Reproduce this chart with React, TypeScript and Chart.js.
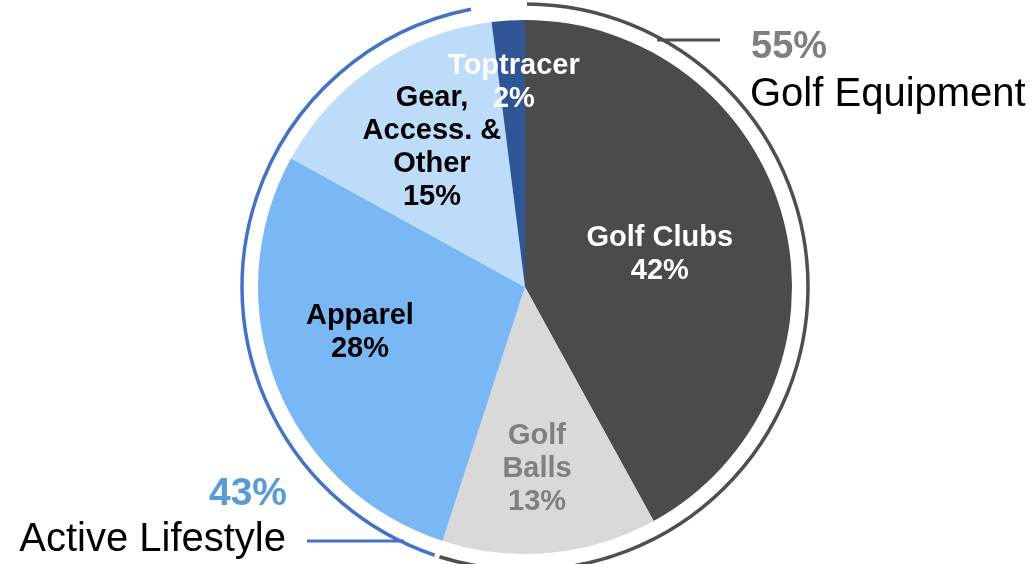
import React, { useEffect, useRef } from "react";
import { Chart, registerables } from "chart.js";

Chart.register(...registerables);

const categories = ["Golf Clubs", "Golf Balls", "Apparel", "Gear, Access. & Other", "Toptracer"];
const labelLines = [["Golf Clubs"], ["Golf", "Balls"], ["Apparel"], ["Gear,", "Access. &", "Other"], ["Toptracer"]];
const shares = [42, 13, 28, 15, 2];
const sliceColors = ["#4b4b4d", "#d9d9d9", "#79b7f5", "#bddcfa", "#2f5597"];
const labelColors = ["#ffffff", "#808080", "#000000", "#000000", "#ffffff"];

const groupNames = ["Golf Equipment", "Active Lifestyle"];
const groupShares = [55, 43];
const groupMembers = [[0, 1], [2, 3]];
const groupLineColors = ["#4f4f4f", "#4472c4"];
const groupPctColors = ["#7f7f7f", "#5b9bd5"];

// label placement: angle shift (deg) from slice mid-angle and radius fraction
const labelPlace = [
  { dAng: 0.5, rf: 0.52 },
  { dAng: 1.6, rf: 0.68 },
  { dAng: 6.6, rf: 0.64 },
  { dAng: 0.6, rf: 0.63 },
  { dAng: 0.5, rf: 0.77 },
];

const FONT = "'Liberation Sans', Arial, sans-serif";

const overlayPlugin = {
  id: "overlay",
  afterDatasetsDraw(chart: any) {
    const ctx: CanvasRenderingContext2D = chart.ctx;
    const meta = chart.getDatasetMeta(0);
    const arcs = meta.data as any[];
    if (!arcs.length) return;
    const cx = arcs[0].x;
    const cy = arcs[0].y;
    const R = arcs[0].outerRadius;
    const deg = Math.PI / 180;

    // slice labels
    ctx.save();
    ctx.textAlign = "center";
    ctx.textBaseline = "middle";
    ctx.font = `bold 29px ${FONT}`;
    arcs.forEach((a, i) => {
      const mid = (a.startAngle + a.endAngle) / 2 + labelPlace[i].dAng * deg;
      const r = R * labelPlace[i].rf;
      const x = cx + Math.cos(mid) * r;
      const y = cy + Math.sin(mid) * r;
      const lines = [...labelLines[i], `${shares[i]}%`];
      const lh = 33;
      const y0 = y - ((lines.length - 1) * lh) / 2;
      ctx.fillStyle = labelColors[i];
      lines.forEach((t, k) => ctx.fillText(t, x, y0 + k * lh + 1));
    });
    ctx.restore();

    // group arcs
    const ringR = R + 16;
    const gaps = [
      [0.4, 0.4],
      [0.6, 3.8],
    ];
    ctx.save();
    ctx.lineWidth = 3.5;
    groupMembers.forEach((m, g) => {
      const s = arcs[m[0]].startAngle + gaps[g][0] * deg;
      const e = arcs[m[m.length - 1]].endAngle - gaps[g][1] * deg;
      ctx.strokeStyle = groupLineColors[g];
      ctx.beginPath();
      ctx.arc(cx, cy, ringR, s, e);
      ctx.stroke();
    });

    // leader lines
    ctx.lineWidth = 3;
    ctx.strokeStyle = groupLineColors[0];
    ctx.beginPath();
    const yA = 40;
    const xA = cx + Math.sqrt(ringR * ringR - (cy - yA) * (cy - yA));
    ctx.moveTo(xA - 6, yA);
    ctx.lineTo(720, yA);
    ctx.stroke();

    ctx.strokeStyle = groupLineColors[1];
    ctx.beginPath();
    const yB = 541;
    const xB = cx - Math.sqrt(ringR * ringR - (yB - cy) * (yB - cy));
    ctx.moveTo(307, yB);
    ctx.lineTo(xB + 4, yB);
    ctx.stroke();
    ctx.restore();

    // group labels
    ctx.save();
    ctx.textBaseline = "alphabetic";
    ctx.textAlign = "left";
    ctx.font = `bold 38px ${FONT}`;
    ctx.fillStyle = groupPctColors[0];
    ctx.fillText(`${groupShares[0]}%`, 751, 58);
    ctx.font = `40px ${FONT}`;
    ctx.fillStyle = "#000000";
    ctx.fillText(groupNames[0], 750, 106);

    ctx.textAlign = "right";
    ctx.font = `bold 39px ${FONT}`;
    ctx.fillStyle = groupPctColors[1];
    ctx.fillText(`${groupShares[1]}%`, 287, 505);
    ctx.font = `40px ${FONT}`;
    ctx.fillStyle = "#000000";
    ctx.fillText(groupNames[1], 286, 551);
    ctx.restore();
  },
};

export default function App() {
  const ref = useRef<HTMLCanvasElement | null>(null);
  useEffect(() => {
    if (!ref.current) return;
    const chart = new Chart(ref.current, {
      type: "pie",
      data: {
        labels: categories,
        datasets: [
          {
            data: shares,
            backgroundColor: sliceColors,
            borderWidth: 0,
            hoverOffset: 0,
          },
        ],
      },
      options: {
        animation: false,
        responsive: false,
        events: [],
        layout: { padding: { top: 20, bottom: 10, left: 17, right: 0 } },
        plugins: {
          legend: { display: false },
          tooltip: { enabled: false },
        },
      },
      plugins: [overlayPlugin],
    });
    return () => chart.destroy();
  }, []);
  return (
    <div style={{ position: "absolute", left: 0, top: 0, width: 1033, height: 564, background: "#fff" }}>
      <canvas ref={ref} width={1033} height={564} style={{ display: "block" }} />
    </div>
  );
}
